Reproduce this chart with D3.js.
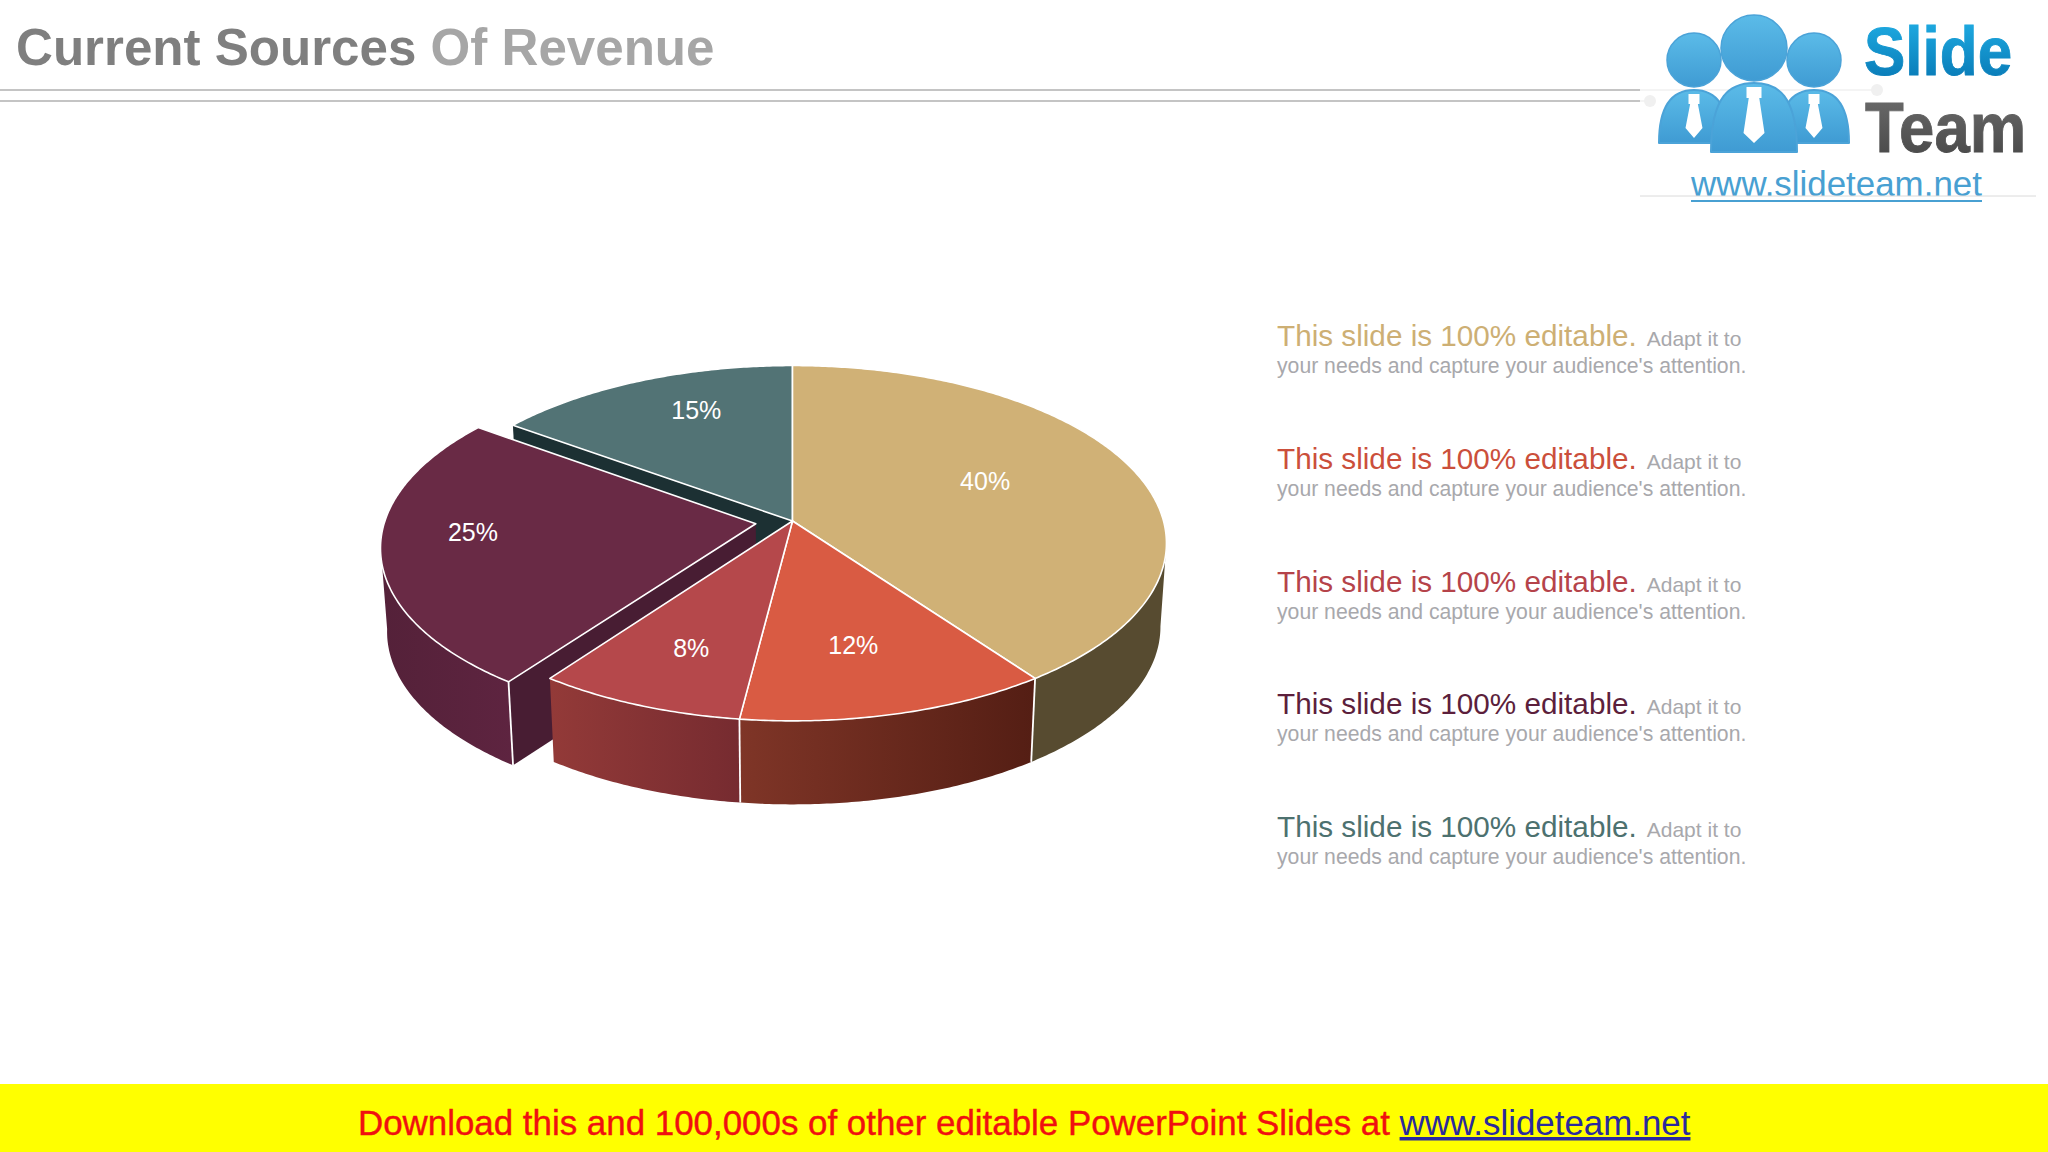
<!DOCTYPE html>
<html><head><meta charset="utf-8">
<script src="https://cdn.jsdelivr.net/npm/d3@7/dist/d3.min.js"></script>
<style>html,body{margin:0;padding:0;background:#fff}svg{display:block}text{font-family:"Liberation Sans",Arial,sans-serif}</style>
</head><body><svg id="c" width="2048" height="1152"></svg>
<script>
// ---- data
const categories = ["Source A","Source B","Source C","Source D","Source E"];
const shares = [40,12,8,25,15];
const exploded = [0,0,0,1,0];
const topColors = ["#D0B176","#D95B43","#B5484B","#692A45","#527375"];
const wallLeft = ["#574B30","#7F3527","#933A38","#542139","#1C3033"];
const wallRight = ["#574B30","#541E14","#762B30","#5E2440","#1C3033"];
const faceColors = ["#574B30","#541E14","#762B30","#481D33","#1C3033"];
const headingColors = ["#CDAF74","#CB4F3B","#B5434A","#5C1F3C","#4D716F"];
const headline = "This slide is 100% editable.";
const tail1 = "Adapt it to";
const tail2 = "your needs and capture your audience's attention.";

// ---- layout
const W=2048,H=1152;
const geo={cx:792.5,cy:521,rx:371,ry:174.9,p:0.125,depth:83.5,shrink:0.984,explode:0.1};
const labelNudge=[[-21,-7],[-1,10],[-10,18],[-52,-9],[1.5,-21]];
const svg=d3.select("#c");
const defs=svg.append("defs");

// perspective projection of the pie's disc onto the slide
function proj(u,v,bottom){
  const d=1-geo.p*v;
  let x=geo.cx+geo.rx*u/d, y=geo.cy+geo.ry*v/d;
  if(bottom){x=geo.cx+(x-geo.cx)*geo.shrink;y+=geo.depth;}
  return [x,y];
}
const pie=d3.pie().sort(null).value(d=>d)(shares);
const line=d3.line();
function off(i){ if(!exploded[i])return [0,0]; const m=(pie[i].startAngle+pie[i].endAngle)/2; return [geo.explode*Math.sin(m),-geo.explode*Math.cos(m)];}
function pt(i,a,r,bottom){const o=off(i);return proj(o[0]+r*Math.sin(a),o[1]-r*Math.cos(a),bottom);}
function arcPts(i,a0,a1,bottom){const n=Math.max(2,Math.ceil(Math.abs(a1-a0)/0.01));return d3.range(n+1).map(k=>pt(i,a0+(a1-a0)*k/n,1,bottom));}

// ---- walls, back to front
const tA=97*Math.PI/180, tB=263*Math.PI/180;
function face(i,a){return [pt(i,a,0,false),pt(i,a,1,false),pt(i,a,1,true),pt(i,a,0,true)];}
const g=svg.append("g");
g.append("path").attr("d",line(face(4,pie[4].startAngle))+"Z").attr("fill",faceColors[4]);
function wall(i){
  const s=pie[i], a0=Math.max(s.startAngle,tA), a1=Math.min(s.endAngle,tB);
  const top=arcPts(i,a0,a1,false), bot=arcPts(i,a0,a1,true).reverse();
  const xs=top.concat(bot).map(p=>p[0]);
  const id="w"+i;
  const gr=defs.append("linearGradient").attr("id",id).attr("gradientUnits","userSpaceOnUse")
    .attr("x1",d3.min(xs)).attr("x2",d3.max(xs)).attr("y1",0).attr("y2",0);
  gr.append("stop").attr("offset",0).attr("stop-color",wallLeft[i]);
  gr.append("stop").attr("offset",1).attr("stop-color",wallRight[i]);
  g.append("path").attr("d",line(top.concat(bot))+"Z").attr("fill",`url(#${id})`);
}
function topFace(i){
  const s=pie[i];
  const pts=[pt(i,0,0,false)].concat(arcPts(i,s.startAngle,s.endAngle,false));
  g.append("path").attr("d",line(pts)+"Z").attr("fill",topColors[i]).attr("stroke","#fff").attr("stroke-width",1.6).attr("stroke-linejoin","round");
}
function seam(i,a){
  g.append("path").attr("d",line([pt(i,a,1,false),pt(i,a,1,true)])).attr("stroke","#fff").attr("stroke-width",1.8).attr("fill","none");
}
g.append("path").attr("d",line(face(3,pie[3].startAngle))+"Z").attr("fill",faceColors[3]);
wall(3); seam(3,pie[3].startAngle); topFace(3);
topFace(4);
wall(0); wall(1); wall(2);
seam(0,pie[0].endAngle); seam(1,pie[1].endAngle);
topFace(0); topFace(1); topFace(2);

// slice labels
pie.forEach((s,i)=>{
  const m=(s.startAngle+s.endAngle)/2, p=pt(i,m,0.62,false);
  svg.append("text").attr("x",p[0]+labelNudge[i][0]).attr("y",p[1]+labelNudge[i][1]).attr("dy","0.36em")
    .attr("text-anchor","middle").attr("font-size",25).attr("fill","#fff").text(shares[i]+"%");
});

// ---- legend text
const rowY=d3.scalePoint().domain(d3.range(shares.length)).range([346,837]);
shares.forEach((_,i)=>{
  const y=rowY(i);
  const t=svg.append("text").attr("x",1277).attr("y",y);
  t.append("tspan").attr("font-size",29.7).attr("fill",headingColors[i]).text(headline);
  t.append("tspan").attr("dx",10).attr("font-size",21).attr("fill","#A8A8AC").text(tail1);
  svg.append("text").attr("x",1277).attr("y",y+27).attr("font-size",21.2).attr("fill","#A8A8AC").text(tail2);
});

// ---- title & rules
const tt=svg.append("text").attr("x",16).attr("y",65).attr("font-size",51.1).attr("font-weight","bold");
tt.append("tspan").attr("fill","#7F7F7F").text("Current Sources ");
tt.append("tspan").attr("fill","#A6A6A6").text("Of Revenue");
[[90,1640,1877],[101,1640,1650]].forEach(([y,x1,x2])=>{
  svg.append("line").attr("x1",0).attr("x2",x1).attr("y1",y).attr("y2",y).attr("stroke","#C4C4C4").attr("stroke-width",2);
  svg.append("line").attr("x1",x1).attr("x2",x2).attr("y1",y).attr("y2",y).attr("stroke","#F0F0F0").attr("stroke-width",1.5);
  svg.append("circle").attr("cx",x2).attr("cy",y).attr("r",6).attr("fill","#F0F0F0");
});

// ---- logo
const blue=defs.append("linearGradient").attr("id","bl").attr("x1",0).attr("x2",0).attr("y1",0).attr("y2",1);
blue.append("stop").attr("offset",0).attr("stop-color","#5BBBE8");blue.append("stop").attr("offset",1).attr("stop-color","#3F9BD3");
const sl=defs.append("linearGradient").attr("id","sl").attr("x1",0).attr("x2",0).attr("y1",0).attr("y2",1);
sl.append("stop").attr("offset",0).attr("stop-color","#22B2E8");sl.append("stop").attr("offset",1).attr("stop-color","#0573B0");
const te=defs.append("linearGradient").attr("id","te").attr("x1",0).attr("x2",0).attr("y1",0).attr("y2",1);
te.append("stop").attr("offset",0).attr("stop-color","#6E6E6E");te.append("stop").attr("offset",1).attr("stop-color","#454545");
const lg=svg.append("g");
function person(cx,headY,r,bw,top,bot,kw,kh,bladeW,tieBot){
  lg.append("path").attr("d",`M${cx-bw},${bot} C${cx-bw},${top+12} ${cx-bw*0.55},${top} ${cx},${top} C${cx+bw*0.55},${top} ${cx+bw},${top+12} ${cx+bw},${bot} Z`)
    .attr("fill","url(#bl)").attr("stroke","#4BA3D8").attr("stroke-width",2).attr("stroke-linejoin","round");
  lg.append("circle").attr("cx",cx).attr("cy",headY).attr("r",r).attr("fill","url(#bl)").attr("stroke","#4BA3D8").attr("stroke-width",1.5);
  lg.append("path").attr("d",d3.line()([
    [cx-kw/2,top+4],[cx+kw/2,top+4],[cx+kw/2,top+4+kh],[cx+kw*0.35,top+4+kh],
    [cx+bladeW/2,tieBot-10],[cx,tieBot],[cx-bladeW/2,tieBot-10],[cx-kw*0.35,top+4+kh],[cx-kw/2,top+4+kh]])+"Z").attr("fill","#fff");
}
person(1694,60,27,35,90,143,11,10,17,138);
person(1814,60,27,35,90,143,11,10,17,138);
person(1754,48,33,43,83,152,15,11,21,143);
lg.append("text").attr("transform","translate(1864,75) scale(1,1.12)").attr("font-size",62).attr("font-weight","bold").attr("fill","url(#sl)").attr("stroke","url(#sl)").attr("stroke-width",0.8).text("Slide");
lg.append("text").attr("transform","translate(1865,152) scale(1,1.12)").attr("font-size",63.5).attr("font-weight","bold").attr("fill","url(#te)").attr("stroke","url(#te)").attr("stroke-width",0.8).text("Team");
lg.append("text").attr("x",1691).attr("y",196).attr("font-size",34.9).attr("fill","#48A0D2").text("www.slideteam.net");
lg.append("line").attr("x1",1691).attr("x2",1982).attr("y1",201).attr("y2",201).attr("stroke","#48A0D2").attr("stroke-width",2);
lg.append("line").attr("x1",1640).attr("x2",2036).attr("y1",196).attr("y2",196).attr("stroke","#DADADA").attr("stroke-width",1);

// ---- footer
svg.append("rect").attr("x",0).attr("y",1084).attr("width",W).attr("height",68).attr("fill","#FFFF00");
const ft=svg.append("text").attr("x",358).attr("y",1135).attr("font-size",34.9);
ft.append("tspan").attr("fill","#F01010").attr("stroke","#F01010").attr("stroke-width",0.4).text("Download this and 100,000s of other editable PowerPoint Slides at ");
ft.append("tspan").attr("fill","#2A2A9E").attr("text-decoration","underline").text("www.slideteam.net");
</script></body></html>
